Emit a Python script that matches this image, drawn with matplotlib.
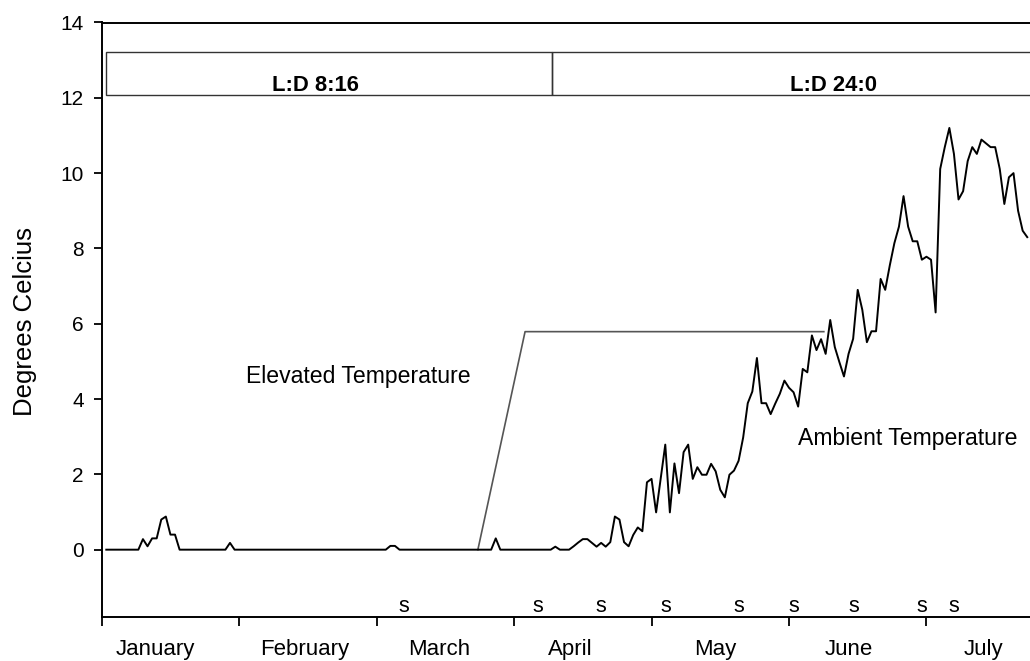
import numpy as np
import matplotlib
matplotlib.use("Agg")
import matplotlib.pyplot as plt
from matplotlib.patches import Rectangle

plt.rcParams['font.family'] = ['Liberation Sans', 'DejaVu Sans']

# Daily ambient temperature, days 1..202
ambient_temp = [
    0, 0, 0, 0, 0, 0, 0, 0, 0.28, 0.09,
    0.3, 0.3, 0.8, 0.88, 0.4, 0.4, 0, 0, 0, 0,
    0, 0, 0, 0, 0, 0, 0, 0.18, 0, 0,
    0, 0, 0, 0, 0, 0, 0, 0, 0, 0,
    0, 0, 0, 0, 0, 0, 0, 0, 0, 0,
    0, 0, 0, 0, 0, 0, 0, 0, 0, 0,
    0, 0, 0.1, 0.1, 0, 0, 0, 0, 0, 0,
    0, 0, 0, 0, 0, 0, 0, 0, 0, 0,
    0, 0, 0, 0, 0, 0.3, 0, 0, 0, 0,
    0, 0, 0, 0, 0, 0, 0, 0, 0.08, 0,
    0, 0, 0.09, 0.19, 0.28, 0.28, 0.18, 0.08, 0.18, 0.08,
    0.2, 0.88, 0.8, 0.2, 0.09, 0.39, 0.59, 0.49, 1.79, 1.88,
    0.99, 1.9, 2.79, 0.99, 2.29, 1.5, 2.59, 2.79, 1.88, 2.19,
    1.99, 1.99, 2.28, 2.08, 1.59, 1.39, 1.99, 2.1, 2.36, 2.98,
    3.89, 4.2, 5.09, 3.89, 3.89, 3.6, 3.88, 4.14, 4.49, 4.3,
    4.18, 3.8, 4.8, 4.71, 5.69, 5.3, 5.59, 5.2, 6.1, 5.38,
    4.98, 4.6, 5.2, 5.6, 6.9, 6.37, 5.51, 5.8, 5.8, 7.19,
    6.9, 7.55, 8.14, 8.58, 9.39, 8.58, 8.19, 8.19, 7.7, 7.78,
    7.7, 6.3, 10.11, 10.69, 11.2, 10.51, 9.3, 9.52, 10.32, 10.69,
    10.51, 10.89, 10.79, 10.69, 10.69, 10.11, 9.18, 9.89, 10.0, 9.0,
    8.47, 8.3,
]
days = np.arange(1, len(ambient_temp) + 1)

# Elevated temperature treatment (ramp then hold)
elevated_days = [82.1, 92.4, 157.6]
elevated_temp = [0, 5.79, 5.79]

# Sampling days marked with "s"
sample_days = [65.9, 95.1, 108.9, 123.1, 139.0, 151.0, 164.1, 179.1, 185.9]

months = ["January", "February", "March", "April", "May", "June", "July"]
month_len = 30
month_label_pos = [11.7, 44.4, 73.6, 102.3, 133.9, 163.0, 192.4]

# Photoperiod bands
photoperiods = ["L:D 8:16", "L:D 24:0"]
photo_start = [0.9, 98.2]
photo_end = [98.2, 215]
photo_text_x = [46.7, 159.7]

fig = plt.figure(figsize=(10.30, 6.61), dpi=100)
ax = fig.add_axes([101.7 / 1030, 1 - 616.7 / 661, 1 - 101.7 / 1030, (616.7 - 22.5) / 661])

ax.plot(days, ambient_temp, color='black', lw=1.4, zorder=3)
ax.plot(elevated_days, elevated_temp, color='#555555', lw=1.2, zorder=2)

for x0, x1, tx, lab in zip(photo_start, photo_end, photo_text_x, photoperiods):
    ax.add_patch(Rectangle((x0, 12.08), x1 - x0, 13.21 - 12.08, fill=False,
                           edgecolor='#333333', lw=1.0, clip_on=True))
    ax.text(tx, 12.18, lab, ha='center', va='baseline', fontsize=15.8,
            fontweight='bold')

for d in sample_days:
    ax.text(d, -1.66, "s", ha='center', va='baseline', fontsize=15.5)

ax.text(31.4, 4.42, "Elevated Temperature", ha='left', va='baseline', fontsize=16.6)
ax.text(151.9, 2.78, "Ambient Temperature", ha='left', va='baseline', fontsize=16.6)

ax.set_xlim(0, 202.6)
ax.set_ylim(-1.78, 14)

ax.set_xticks(np.arange(0, 7) * month_len)
ax.set_xticklabels([])
ax.set_xticks(month_label_pos, minor=True)
ax.set_xticklabels(months, minor=True, fontsize=16)
ax.tick_params(axis='x', which='major', direction='out', length=6.5, width=1.3)
ax.tick_params(axis='x', which='minor', length=0, pad=16)

ax.set_yticks(np.arange(0, 15, 2))
ax.tick_params(axis='y', direction='out', length=6, width=1.3, labelsize=15, pad=7)

for side in ['left', 'bottom', 'top']:
    ax.spines[side].set_linewidth(1.4)
ax.spines['right'].set_visible(False)

fig.text(25 / 1030, 1 - 322 / 661, "Degrees Celcius", rotation=90,
         ha='center', va='center', fontsize=18.5)

fig.savefig("out.png", dpi=100)
